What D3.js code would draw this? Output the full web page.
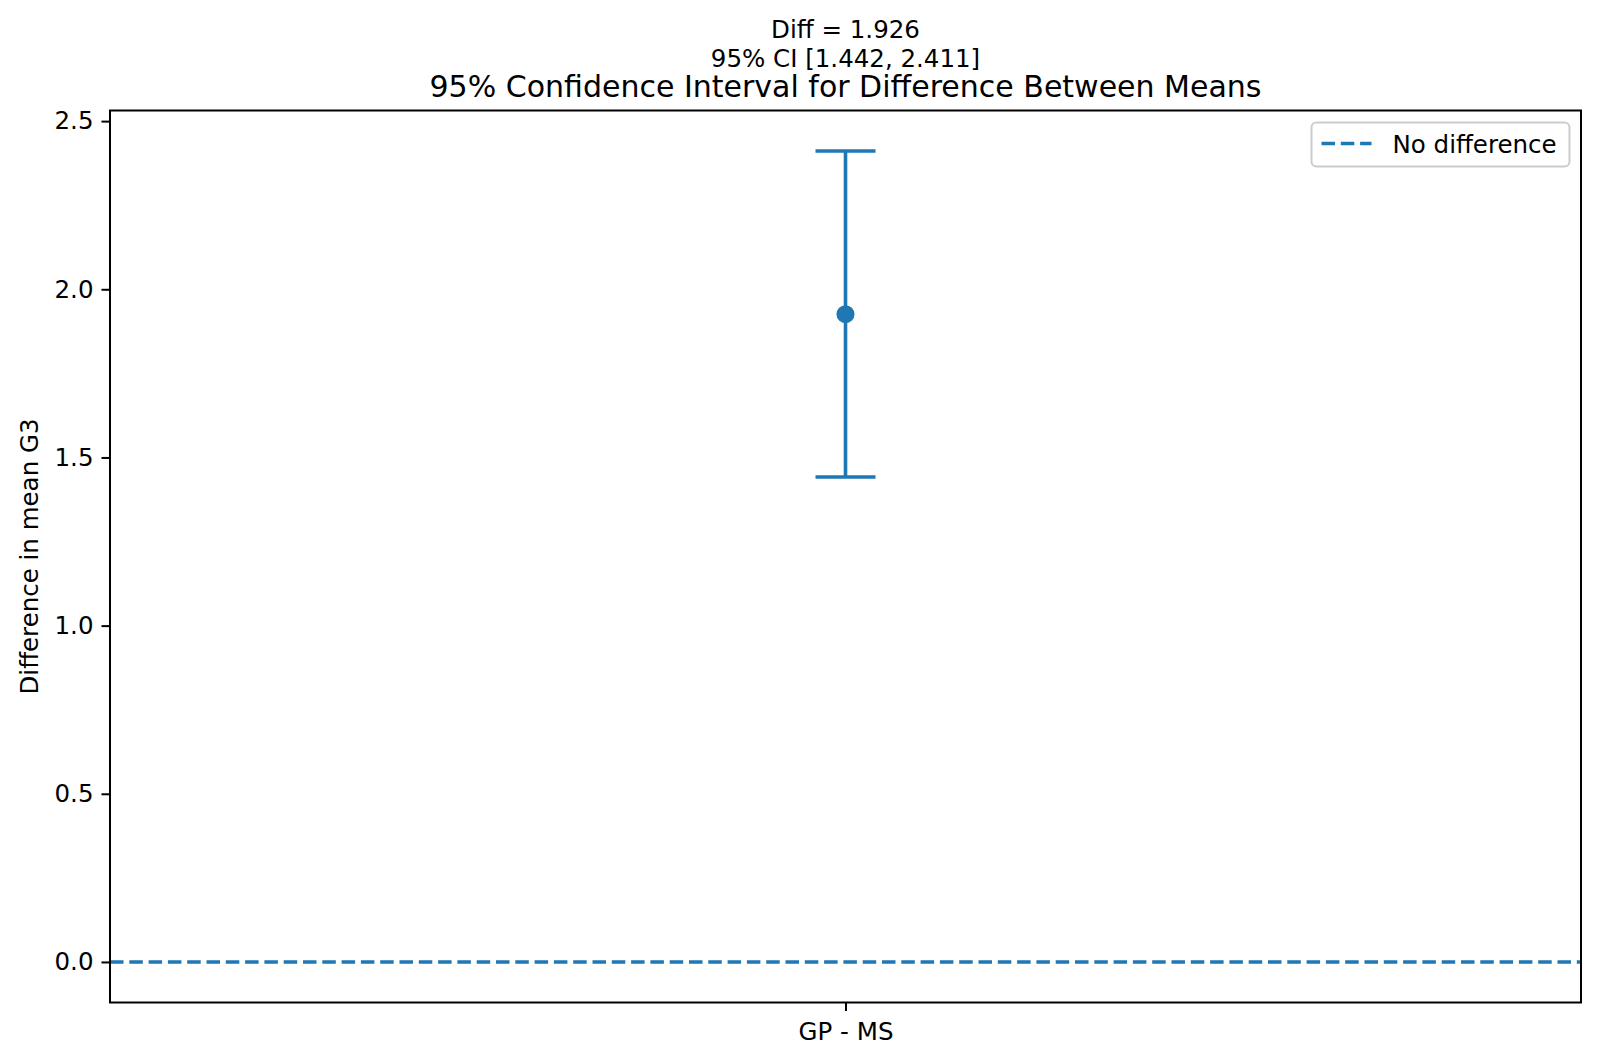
<!DOCTYPE html>
<html>
<head>
<meta charset="utf-8">
<script src="https://cdn.jsdelivr.net/npm/d3@7"></script>
<style>
  body { margin: 0; background: #fff; }
  svg { display: block; font-family: 'DejaVu Sans', sans-serif; }
</style>
</head>
<body>
<script>
// chart data
const categories = ['GP - MS']
const diffs = [1.926]
const ciLow = [1.442]
const ciHigh = [2.411]
const yTicks = [0.0, 0.5, 1.0, 1.5, 2.0, 2.5]
const refValue = 0
const titleLines = ['Diff = 1.926', '95% CI [1.442, 2.411]']
const title = '95% Confidence Interval for Difference Between Means'
const yLabel = 'Difference in mean G3'
const legendLabel = 'No difference'

const width = 1600
const height = 1064
const margin = { top: 110.5, right: 19, bottom: 61.5, left: 110 }
const color = '#1f77b4'

const svg = d3.select('body').append('svg')
  .attr('width', width)
  .attr('height', height)

const plotW = width - margin.left - margin.right
const plotH = height - margin.top - margin.bottom

// y limits like matplotlib autoscale: 5% margin on data range (0 .. max CI)
const yMin = Math.min(refValue, d3.min(ciLow))
const yMax = d3.max(ciHigh)
const pad = (yMax - yMin) * 0.05

const y = d3.scaleLinear()
  .domain([yMin - pad, yMax + pad])
  .range([margin.top + plotH, margin.top])

const x = d3.scalePoint()
  .domain(categories)
  .range([margin.left, margin.left + plotW])
  .padding(0.5)

const g = svg.append('g')

// zero reference line
g.append('line')
  .attr('x1', margin.left)
  .attr('x2', margin.left + plotW)
  .attr('y1', y(refValue))
  .attr('y2', y(refValue))
  .attr('stroke', color)
  .attr('stroke-width', 3.6)
  .attr('stroke-dasharray', '13.5,5.8')

// error bars
const rows = categories.map((c, i) => ({ cat: c, mid: diffs[i], lo: ciLow[i], hi: ciHigh[i] }))
const capHalf = 30

const bars = g.selectAll('g.err').data(rows).enter().append('g').attr('class', 'err')
bars.append('line')
  .attr('x1', d => x(d.cat)).attr('x2', d => x(d.cat))
  .attr('y1', d => y(d.lo)).attr('y2', d => y(d.hi))
  .attr('stroke', color).attr('stroke-width', 3.6)
bars.selectAll('line.cap').data(d => [{ cat: d.cat, v: d.lo }, { cat: d.cat, v: d.hi }])
  .enter().append('line')
  .attr('class', 'cap')
  .attr('x1', d => x(d.cat) - capHalf).attr('x2', d => x(d.cat) + capHalf)
  .attr('y1', d => y(d.v)).attr('y2', d => y(d.v))
  .attr('stroke', color).attr('stroke-width', 3.6)
bars.append('circle')
  .attr('cx', d => x(d.cat))
  .attr('cy', d => y(d.mid))
  .attr('r', 9)
  .attr('fill', color)

// axes
const yAxis = d3.axisLeft(y)
  .tickValues(yTicks)
  .tickFormat(d3.format('.1f'))
  .tickSize(8.5)
  .tickPadding(8)
const yG = svg.append('g')
  .attr('transform', `translate(${margin.left},0)`)
  .call(yAxis)
yG.select('.domain').remove()
yG.selectAll('line').attr('stroke', '#000').attr('stroke-width', 2)
yG.selectAll('text').attr('font-size', 24.5).attr('fill', '#000')
  .attr('font-family', 'DejaVu Sans')

const xAxis = d3.axisBottom(x)
  .tickSize(8.5)
  .tickPadding(12)
const xG = svg.append('g')
  .attr('transform', `translate(0,${margin.top + plotH})`)
  .call(xAxis)
xG.select('.domain').remove()
xG.selectAll('line').attr('stroke', '#000').attr('stroke-width', 2)
xG.selectAll('text').attr('font-size', 24.5).attr('fill', '#000')
  .attr('font-family', 'DejaVu Sans')

// frame
svg.append('rect')
  .attr('x', margin.left)
  .attr('y', margin.top)
  .attr('width', plotW)
  .attr('height', plotH)
  .attr('fill', 'none')
  .attr('stroke', '#000')
  .attr('stroke-width', 2)

// titles
const cx = margin.left + plotW / 2
svg.append('text')
  .attr('x', cx).attr('y', 37.5)
  .attr('text-anchor', 'middle')
  .attr('font-size', 24.5)
  .text(titleLines[0])
svg.append('text')
  .attr('x', cx).attr('y', 66.5)
  .attr('text-anchor', 'middle')
  .attr('font-size', 24.5)
  .text(titleLines[1])
svg.append('text')
  .attr('x', cx).attr('y', 96.5)
  .attr('text-anchor', 'middle')
  .attr('font-size', 30)
  .text(title)

// y label
svg.append('text')
  .attr('transform', `translate(38,${margin.top + plotH / 2}) rotate(-90)`)
  .attr('text-anchor', 'middle')
  .attr('font-size', 24.5)
  .text(yLabel)

// legend
const leg = svg.append('g').attr('transform', 'translate(1311.5,122.5)')
leg.append('rect')
  .attr('width', 258)
  .attr('height', 44)
  .attr('rx', 5)
  .attr('fill', '#fff')
  .attr('fill-opacity', 0.8)
  .attr('stroke', '#cccccc')
  .attr('stroke-width', 2)
leg.append('line')
  .attr('x1', 10).attr('x2', 60)
  .attr('y1', 21).attr('y2', 21)
  .attr('stroke', color)
  .attr('stroke-width', 3.6)
  .attr('stroke-dasharray', '13.5,5.8')
leg.append('text')
  .attr('x', 81).attr('y', 30)
  .attr('font-size', 24.5)
  .text(legendLabel)
</script>
</body>
</html>
